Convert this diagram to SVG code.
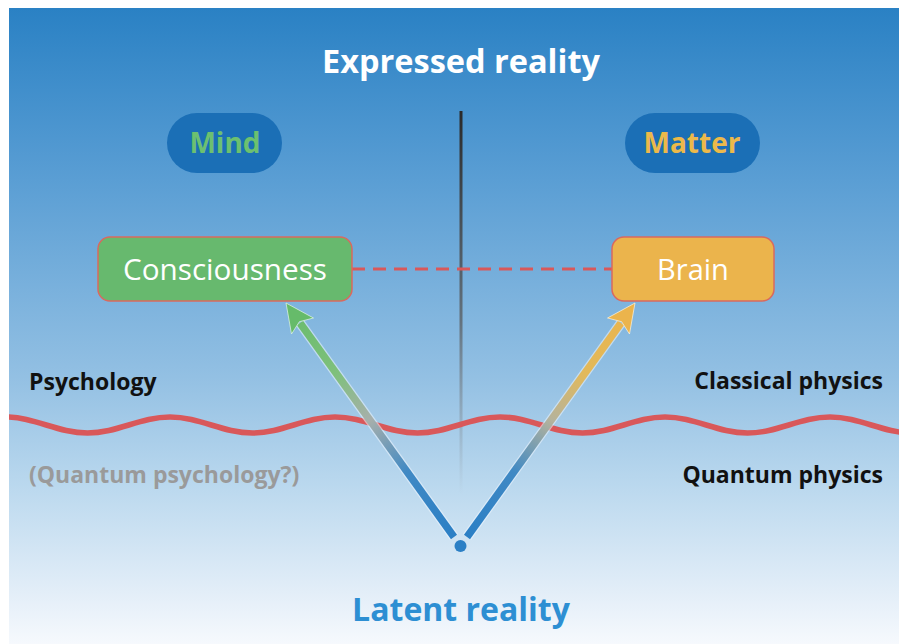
<svg xmlns="http://www.w3.org/2000/svg" width="899" height="644" viewBox="0 0 899 644">
<defs>
<linearGradient id="bg" x1="0" y1="8" x2="0" y2="644" gradientUnits="userSpaceOnUse">
<stop offset="0" stop-color="#2a81c4"/>
<stop offset="0.27" stop-color="#5a9ed4"/>
<stop offset="0.58" stop-color="#93c0e3"/>
<stop offset="0.75" stop-color="#bad8ee"/>
<stop offset="0.92" stop-color="#e3eef8"/>
<stop offset="1" stop-color="#f6f9fd"/>
</linearGradient>
<linearGradient id="vline" x1="0" y1="111" x2="0" y2="495" gradientUnits="userSpaceOnUse">
<stop offset="0" stop-color="#2a2a2a" stop-opacity="1"/>
<stop offset="0.55" stop-color="#555" stop-opacity="0.7"/>
<stop offset="1" stop-color="#888" stop-opacity="0"/>
</linearGradient>
<linearGradient id="gl" x1="454" y1="537" x2="286" y2="303" gradientUnits="userSpaceOnUse">
<stop offset="0" stop-color="#2b7fc5"/>
<stop offset="0.28" stop-color="#4089c4"/>
<stop offset="0.5" stop-color="#a7afab"/>
<stop offset="0.7" stop-color="#7fc07c"/>
<stop offset="1" stop-color="#66bb6a"/>
</linearGradient>
<linearGradient id="gr" x1="467" y1="537" x2="635" y2="303" gradientUnits="userSpaceOnUse">
<stop offset="0" stop-color="#2b7fc5"/>
<stop offset="0.28" stop-color="#4089c4"/>
<stop offset="0.5" stop-color="#b5b39c"/>
<stop offset="0.7" stop-color="#e2b95a"/>
<stop offset="1" stop-color="#ebb44c"/>
</linearGradient>
<clipPath id="clip"><rect x="9" y="8" width="890" height="636"/></clipPath>
</defs>
<style>
text{font-family:"Open Sans","Noto Sans","Liberation Sans",sans-serif;}
.b{font-weight:bold;}
.box{stroke:#d9695f;stroke-width:1.5;}
.pill{fill:#1b6fb6;}
.side{font-size:23px;font-weight:bold;fill:#111;}
</style>
<rect x="9" y="8" width="890" height="636" fill="url(#bg)"/>
<text x="461" y="73" text-anchor="middle" class="b" font-size="32.5" fill="#ffffff">Expressed reality</text>
<text x="461" y="621" text-anchor="middle" class="b" font-size="32" fill="#2d8fd3">Latent reality</text>
<g id="connectors">
<line x1="461" y1="111" x2="461" y2="495" stroke="url(#vline)" stroke-width="3"/>
<path clip-path="url(#clip)" d="M5,417 C35,417 57.5,433 87.5,433 S140,417 170,417 S222.5,433 252.5,433 S305,417 335,417 S387.5,433 417.5,433 S470,417 500,417 S552.5,433 582.5,433 S635,417 665,417 S717.5,433 747.5,433 S800,417 830,417 S882.5,433 912.5,433" fill="none" stroke="#d9585a" stroke-width="5.5"/>
<line x1="352" y1="269" x2="612" y2="269" stroke="#d9585a" stroke-width="3" stroke-dasharray="13 8"/>
<g id="arrow-left">
<line x1="454" y1="537" x2="300" y2="323" stroke="#eef6ff" stroke-opacity="0.55" stroke-width="10"/>
<line x1="454" y1="537" x2="300" y2="323" stroke="url(#gl)" stroke-width="7.5"/>
<polygon points="286,303 313.5,318 299.4,321.7 291.5,334" fill="#66bb6a" stroke="#e6f6e6" stroke-opacity="0.7" stroke-width="1"/>
</g>
<g id="arrow-right">
<line x1="467" y1="537" x2="621" y2="323" stroke="#eef6ff" stroke-opacity="0.55" stroke-width="10"/>
<line x1="467" y1="537" x2="621" y2="323" stroke="url(#gr)" stroke-width="7.5"/>
<polygon points="635,303 629.5,334 621.6,321.7 607.5,318" fill="#ebb44c" stroke="#fff4dc" stroke-opacity="0.7" stroke-width="1"/>
</g>
<circle cx="460.5" cy="546" r="6" fill="#2b7fc5"/>
</g>
<g id="mind">
<rect class="pill" x="167" y="113" width="115" height="60" rx="30"/>
<text x="225" y="153" text-anchor="middle" class="b" font-size="28" fill="#6cc070">Mind</text>
</g>
<g id="matter">
<rect class="pill" x="625" y="113" width="135" height="60" rx="30"/>
<text x="692" y="153" text-anchor="middle" class="b" font-size="28" fill="#ecb94a">Matter</text>
</g>
<g id="consciousness">
<rect class="box" x="98" y="237" width="254" height="64" rx="12" fill="#67b96e"/>
<text x="225" y="280" text-anchor="middle" font-size="29.7" fill="#ffffff">Consciousness</text>
</g>
<g id="brain">
<rect class="box" x="612" y="237" width="162" height="64" rx="12" fill="#ebb44c"/>
<text x="693" y="280" text-anchor="middle" font-size="29" fill="#ffffff">Brain</text>
</g>
<g id="psychology"><text x="29" y="390" class="side">Psychology</text></g>
<g id="quantum-psychology"><text x="29" y="483" class="side" style="fill:#9a9a9a">(Quantum psychology?)</text></g>
<g id="classical-physics"><text x="883" y="389" text-anchor="end" class="side">Classical physics</text></g>
<g id="quantum-physics"><text x="883" y="483" text-anchor="end" class="side">Quantum physics</text></g>
</svg>
